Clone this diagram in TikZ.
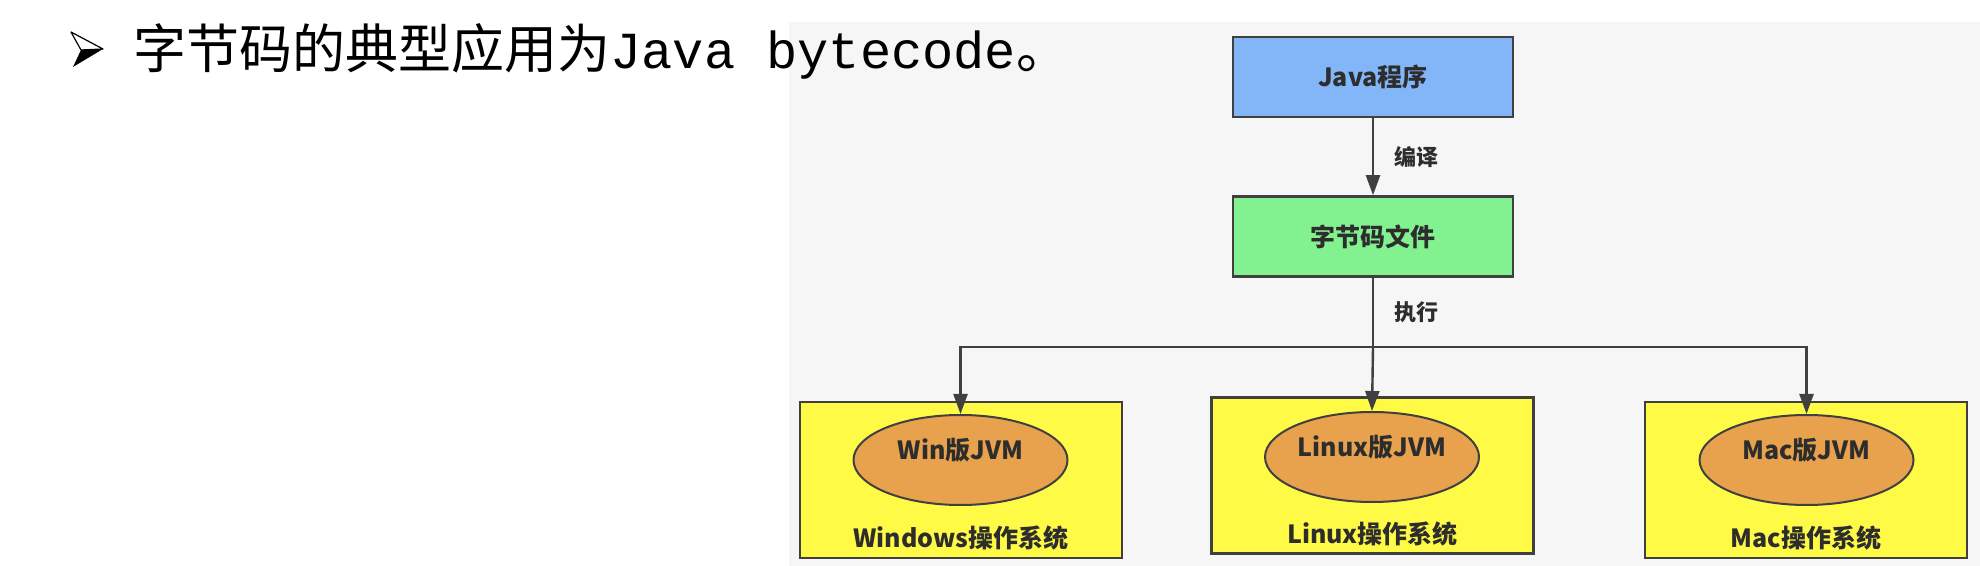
\documentclass[tikz,border=0pt]{standalone}
\usepackage{fontspec}
\newfontfamily\cjk{Noto Sans CJK SC}
\newfontfamily\monotext{Liberation Mono}
\usetikzlibrary{arrows.meta,shapes.geometric,positioning}
\definecolor{panelgray}{RGB}{246,246,246}
\definecolor{boxline}{RGB}{64,64,64}
\definecolor{labelgray}{RGB}{45,45,45}
\definecolor{javablue}{RGB}{130,182,248}
\definecolor{bcgreen}{RGB}{130,242,145}
\definecolor{osyellow}{RGB}{255,250,70}
\definecolor{jvmorange}{RGB}{232,161,76}
\tikzset{
  prog/.style={draw=boxline, line width=1.3pt, minimum width=140pt, minimum height=40pt,
    font=\cjk\bfseries\fontsize{12.5pt}{15pt}\selectfont, text=labelgray},
  osbox/.style={draw=boxline, line width=1.3pt, fill=osyellow, minimum width=161pt, minimum height=78pt},
  jvm/.style={ellipse, draw=boxline, line width=1pt, fill=jvmorange, minimum width=107pt, minimum height=45pt},
  boxtext/.style={inner sep=0pt, font=\cjk\bfseries\fontsize{12.5pt}{15pt}\selectfont, text=labelgray},
  edgetext/.style={inner sep=0pt, anchor=west, xshift=10pt, font=\cjk\bfseries\fontsize{11pt}{13pt}\selectfont, text=labelgray},
  flow/.style={draw=boxline, line width=1.2pt, -{Triangle[length=10pt,width=7pt]}}
}
\begin{document}
\begin{tikzpicture}[x=0.5pt,y=-0.5pt]
  \useasboundingbox (0,0) rectangle (1980,566);
  \fill[panelgray] (789,22) rectangle (1980,566);

  \draw[line width=0.6pt, line join=round] (71,32) -- (103,49) -- (81,50) -- cycle;
  \fill[black] (81,50) -- (103,49) -- (73,67) -- cycle;
  \node[inner sep=0pt, anchor=base west] (title) at (133,69)
    {\cjk\fontsize{26.5pt}{30pt}\selectfont 字节码的典型应用为{\monotext\fontsize{26pt}{30pt}\selectfont Java bytecode}。};

  \node[prog, fill=javablue] (java) at (1373,77) {Java程序};
  \node[prog, fill=bcgreen] (bytecode) at (1373,236.5) {字节码文件};
  \coordinate (split) at (1373,347);

  \node[osbox] (win) at (961,480) {};
  \node[osbox] (linux) at (1372.5,475.5) {};
  \node[osbox] (mac) at (1806,480) {};

  \node[jvm] (winjvm) at (960.5,460) {};
  \node[jvm] (linuxjvm) at (1372,457) {};
  \node[jvm] (macjvm) at (1806.5,460) {};

  \node[boxtext] (winjvmtext) at ([yshift=5pt]winjvm.center) {Win版JVM};
  \node[boxtext] (linuxjvmtext) at ([yshift=5pt]linuxjvm.center) {Linux版JVM};
  \node[boxtext] (macjvmtext) at ([yshift=5pt]macjvm.center) {Mac版JVM};

  \node[boxtext] (winos) at ([yshift=10.5pt]win.south) {Windows操作系统};
  \node[boxtext] (linuxos) at ([yshift=10.5pt]linux.south) {Linux操作系统};
  \node[boxtext] (macos) at ([yshift=10.5pt]mac.south) {Mac操作系统};

  \begin{scope}[flow]
    \draw (java) -- node[edgetext] (compile) {编译} (bytecode);
    \draw[-] (bytecode) -- node[edgetext] (run) {执行} (split);
    \draw (split) -- (linuxjvm.north);
    \draw (split) -| (winjvm.north);
    \draw (split) -| (macjvm.north);
  \end{scope}
\end{tikzpicture}
\end{document}
